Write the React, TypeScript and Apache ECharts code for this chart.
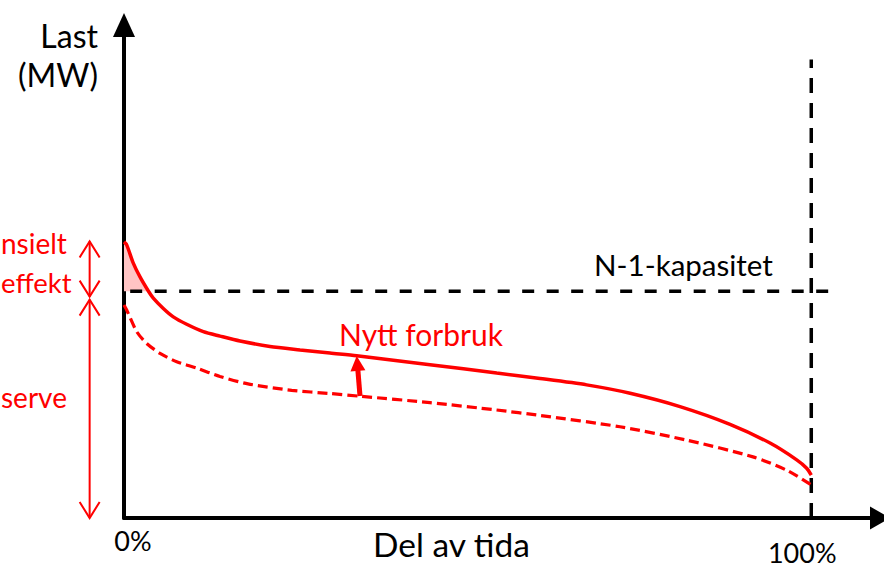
import React, { useEffect, useRef } from 'react';
import * as echarts from 'echarts';

// Share of time (%) and load (MW, schematic units)
const newShare = [0, 0.39, 1.35, 2.33, 3.56, 4.26, 5.72, 7.17, 9.12, 11.54, 13.97, 16.88, 21.24, 25.61, 29.97, 33.86, 44.52, 54.23, 60.53, 67.32, 73.64, 80.9, 88.18, 94.0, 97.88, 99.33, 100];
const newLoad = [56.0, 55.4, 51.7, 48.9, 46.0, 44.6, 42.5, 40.8, 39.3, 37.8, 36.9, 35.9, 34.8, 34.1, 33.45, 32.9, 31.1, 29.4, 28.3, 27.0, 25.3, 22.6, 19.0, 15.2, 11.8, 10.1, 8.7];
const oldShare = [0, 0.39, 1.85, 3.3, 5.24, 7.67, 10.58, 13.97, 18.04, 24.4, 29.97, 34.34, 44.52, 54.23, 60.53, 72.17, 81.87, 91.52, 96.42, 100];
const oldLoad = [43.2, 42.2, 37.8, 35.4, 33.4, 31.7, 30.4, 28.7, 27.2, 25.9, 25.25, 24.7, 23.4, 21.9, 20.8, 18.5, 15.8, 12.4, 9.7, 6.7];
const excessCount = 5; // first points of the new curve, down to the N-1 crossing

const n1Capacity = 46.0;
const n1Span = [0.9, 103.0];
const fullTime = 100;
const fullTimeTop = 93;

const xTickValues = [0, 100];
const xTickLabels = ['0%', '100%'];

// annotation arrows
const reserveX = -5;
const potentialArrow = [56.1, 44.9];
const reserveArrow = [44.3, 0];
const growthArrow = [34.34, 24.75, 33.86, 32.86];

const RED = '#ff0000';
const FONT = 'Lato';

export default function App() {
  const ref = useRef<HTMLDivElement>(null);
  useEffect(() => {
    const chart = echarts.init(ref.current!, null, { renderer: 'svg' });
    const newData = newShare.map((x, i) => [x, newLoad[i]]);
    const oldData = oldShare.map((x, i) => [x, oldLoad[i]]);
    const arrows = [
      [reserveX, potentialArrow[0], reserveX, potentialArrow[1], 0],
      [reserveX, reserveArrow[0], reserveX, reserveArrow[1], 0],
      [growthArrow[0], growthArrow[1], growthArrow[2], growthArrow[3], 1],
    ];
    const text = (t: string, x: number, y: number, size: number, align: string, color = '#000') => ({
      type: 'text',
      x,
      y,
      style: { text: t, fontFamily: FONT, fontSize: size, fill: color, align, verticalAlign: 'middle' },
    });
    chart.setOption({
      animation: false,
      grid: { left: 124, right: 4, top: 25, bottom: 50 },
      xAxis: {
        type: 'value',
        min: 0,
        max: 110,
        splitLine: { show: false },
        axisTick: { show: false },
        axisLine: { show: true, symbol: ['none', 'triangle'], symbolSize: [23, 20], lineStyle: { color: '#000', width: 4 } },
        axisLabel: {
          customValues: xTickValues,
          margin: 22,
          verticalAlign: 'middle',
          fontFamily: FONT,
          fontSize: 27,
          color: '#000',
          formatter: (v: number) => (v === xTickValues[0] ? '{a|' + xTickLabels[0] + '}' : '{b|' + xTickLabels[1] + '}'),
          rich: {
            a: { fontFamily: FONT, fontSize: 27, color: '#000', padding: [0, 0, 0, 18] },
            b: { fontFamily: FONT, fontSize: 27, color: '#000', padding: [25, 18, 0, 0] },
          },
        },
      },
      yAxis: {
        type: 'value',
        min: 0,
        max: 100,
        splitLine: { show: false },
        axisTick: { show: false },
        axisLabel: { show: false },
        axisLine: { show: true, symbol: ['none', 'triangle'], symbolSize: [22, 24], lineStyle: { color: '#000', width: 4 } },
      },
      series: [
        {
          type: 'line',
          data: newData.slice(0, excessCount),
          smooth: 0.25,
          showSymbol: false,
          lineStyle: { width: 0 },
          areaStyle: { color: '#ffc4c4', opacity: 1, origin: n1Capacity },
          z: 1,
        },
        {
          type: 'line',
          data: [[n1Span[0], n1Capacity], [n1Span[1], n1Capacity]],
          showSymbol: false,
          lineStyle: { color: '#000', width: 3.5, type: [12, 12.5] },
          z: 2,
        },
        {
          type: 'line',
          data: [[fullTime, 0], [fullTime, fullTimeTop]],
          showSymbol: false,
          lineStyle: { color: '#000', width: 3.5, type: [15, 10] },
          z: 2,
        },
        {
          type: 'line',
          data: oldData,
          smooth: 0.25,
          showSymbol: false,
          lineStyle: { color: RED, width: 3.2, type: [10, 5] },
          z: 3,
        },
        {
          type: 'line',
          data: newData,
          smooth: 0.25,
          showSymbol: false,
          lineStyle: { color: RED, width: 3.5 },
          z: 4,
        },
        {
          type: 'custom',
          clip: false,
          z: 5,
          data: arrows,
          renderItem: (params: any, api: any) => {
            const p1 = api.coord([api.value(0), api.value(1)]);
            const p2 = api.coord([api.value(2), api.value(3)]);
            const kind = api.value(4);
            const dx = p2[0] - p1[0];
            const dy = p2[1] - p1[1];
            const len = Math.sqrt(dx * dx + dy * dy);
            const ux = dx / len;
            const uy = dy / len;
            const nx = -uy;
            const ny = ux;
            if (kind === 0) {
              const hl = 16;
              const hw = 10;
              const chev = (tip: number[], dir: number) => ({
                type: 'polyline',
                shape: {
                  points: [
                    [tip[0] - dir * ux * hl + nx * hw, tip[1] - dir * uy * hl + ny * hw],
                    tip,
                    [tip[0] - dir * ux * hl - nx * hw, tip[1] - dir * uy * hl - ny * hw],
                  ],
                },
                style: { stroke: RED, lineWidth: 2, fill: null },
              });
              return {
                type: 'group',
                children: [
                  { type: 'line', shape: { x1: p1[0], y1: p1[1], x2: p2[0], y2: p2[1] }, style: { stroke: RED, lineWidth: 2 } },
                  chev(p2, 1),
                  chev(p1, -1),
                ],
              };
            }
            const hl = 15;
            const hw = 7.5;
            const base = [p2[0] - ux * hl, p2[1] - uy * hl];
            return {
              type: 'group',
              children: [
                { type: 'line', shape: { x1: p1[0], y1: p1[1], x2: base[0] + ux * 2, y2: base[1] + uy * 2 }, style: { stroke: RED, lineWidth: 5 } },
                {
                  type: 'polygon',
                  shape: { points: [p2, [base[0] + nx * hw, base[1] + ny * hw], [base[0] - nx * hw, base[1] - ny * hw]] },
                  style: { fill: RED },
                },
              ],
            };
          },
        },
      ],
      graphic: [
        text('Last', 98, 35.5, 32, 'right'),
        text('(MW)', 98, 74.5, 32, 'right'),
        text('Del av tida', 451.5, 543.5, 33.5, 'center'),
        text('N-1-kapasitet', 683.5, 264, 29.5, 'center'),
        text('Nytt forbruk', 421, 334, 30, 'center', RED),
        text('nsielt', 1, 243, 28, 'left', RED),
        text('effekt', 1, 282, 27.5, 'left', RED),
        text('serve', 1, 397, 28, 'left', RED),
      ],
    });
    return () => chart.dispose();
  }, []);
  return <div ref={ref} style={{ width: 884, height: 568, position: 'absolute', left: 0, top: 0 }} />;
}
